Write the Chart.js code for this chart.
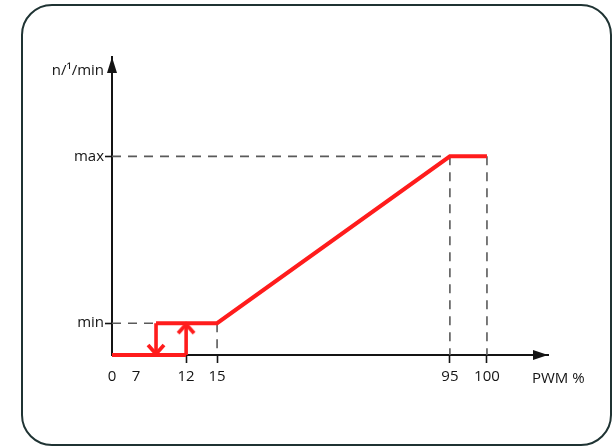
<!DOCTYPE html>
<html>
<head>
<meta charset="utf-8">
<script src="https://cdn.jsdelivr.net/npm/chart.js@4.4.1/dist/chart.umd.min.js"></script>
<style>
  html,body{margin:0;padding:0;background:#fff;}
  #wrap{width:614px;height:447px;position:relative;}
</style>
</head>
<body>
<div id="wrap"><canvas id="fanChart" width="614" height="447"></canvas></div>
<script>
/* ---- data: fan speed vs PWM duty (schematic) ---- */
const pwmTicks    = [0, 7, 12, 15, 95, 100];
const N_MIN = 16, N_MAX = 100;             // relative speed, min / max
const speedTicks  = [N_MIN, N_MAX];
const speedLabels = ['min', 'max'];
const offPwm      = [0, 12];               // fan stopped
const offSpeed    = [0, 0];
const runPwm      = [7, 15, 95, 100];      // fan running
const runSpeed    = [N_MIN, N_MIN, N_MAX, N_MAX];
const SWITCH_OFF  = 7, SWITCH_ON = 12;     // hysteresis

/* ---- schematic (non linear) x scale: value -> fraction of axis ---- */
const X_STOPS = [[0,0],[7,0.101],[12,0.170],[15,0.241],[95,0.775],[100,0.860],[120,1]];
const X_LABEL_NUDGE = {7:-20};

const RED  = '#ff1c1c';
const INK  = '#141414';
const DASH = '#5a5a5a';
const FONT = {family:'"Open Sans", "Noto Sans", sans-serif', size:15};

class SchematicScale extends Chart.LinearScale {
  getPixelForValue(v){
    let f = 1;
    for(let i=1;i<X_STOPS.length;i++){
      if(v <= X_STOPS[i][0]){
        const [v0,f0]=X_STOPS[i-1], [v1,f1]=X_STOPS[i];
        f = f0+(v-v0)/(v1-v0)*(f1-f0); break;
      }
    }
    return this.getPixelForDecimal(f);
  }
  getPixelForTick(i){
    const t = this.ticks[i];
    return this.getPixelForValue(t.value) + (X_LABEL_NUDGE[t.value]||0);
  }
}
SchematicScale.id = 'schematic';
SchematicScale.defaults = Chart.LinearScale.defaults;
Chart.register(SchematicScale);

const pts = (xs,ys)=>xs.map((x,i)=>({x, y:ys[i]}));

/* arrow head used as point style (tip at canvas centre) */
function chevron(){
  const c=document.createElement('canvas'); c.width=26; c.height=30;
  const g=c.getContext('2d');
  g.strokeStyle=RED; g.lineWidth=3.8; g.lineJoin='miter';
  g.beginPath(); g.moveTo(5,25); g.lineTo(13,16); g.lineTo(21,25); g.stroke();
  return c;
}
const CHEV = chevron();

const redLine = (data,extra)=>Object.assign({
  data, borderColor:RED, borderWidth:4, pointRadius:0, tension:0, order:0, clip:false
}, extra||{});
const arrow = (data,rot)=>redLine(data,{
  pointStyle:ctx=>ctx.dataIndex===1?CHEV:'circle',
  pointRadius:ctx=>ctx.dataIndex===1?5:0,
  pointRotation:rot, borderWidth:3.6
});

/* dashed guide lines follow the data break points */
const guides = [
  [[0,N_MAX],[95,N_MAX]],
  [[95,N_MAX],[95,0]],
  [[100,N_MAX],[100,0]],
  [[0,N_MIN],[SWITCH_OFF,N_MIN]],
  [[15,N_MIN],[15,0]]
].map(seg=>({
  data:seg.map(([x,y])=>({x,y})), borderColor:DASH, borderWidth:1.6,
  borderDash:[9,7], pointRadius:0, order:5
}));

const decor = {
  id:'decor',
  beforeDraw(chart){
    const ctx=chart.ctx; ctx.save();
    ctx.strokeStyle='#1f3333'; ctx.lineWidth=2;
    ctx.beginPath(); ctx.roundRect(22,5,589,440,30); ctx.stroke();
    ctx.restore();
  },
  afterDraw(chart){
    const {ctx, chartArea:a} = chart; ctx.save();
    ctx.fillStyle=INK;
    ctx.beginPath(); ctx.moveTo(a.left,a.top); ctx.lineTo(a.left-5,a.top+16); ctx.lineTo(a.left+5,a.top+16); ctx.closePath(); ctx.fill();
    ctx.beginPath(); ctx.moveTo(a.right,a.bottom); ctx.lineTo(a.right-15,a.bottom-5); ctx.lineTo(a.right-15,a.bottom+5); ctx.closePath(); ctx.fill();
    ctx.font=`${FONT.size}px ${FONT.family}`; ctx.textBaseline='middle';
    ctx.textAlign='right'; ctx.fillText('n/¹/min', a.left-8, a.top+14);
    ctx.textAlign='left';  ctx.fillText('PWM %', a.right-16, a.bottom+24);
    ctx.restore();
  }
};

new Chart(document.getElementById('fanChart'),{
  type:'line',
  data:{datasets:[
    redLine(pts(offPwm,offSpeed)),
    redLine(pts(runPwm,runSpeed)),
    arrow([{x:SWITCH_ON,y:0},{x:SWITCH_ON,y:N_MIN}],0),
    arrow([{x:SWITCH_OFF,y:N_MIN},{x:SWITCH_OFF,y:0}],180),
    ...guides
  ]},
  options:{
    responsive:false, animation:false, events:[],
    layout:{padding:{top:57,right:66,bottom:0,left:0}},
    plugins:{legend:{display:false},tooltip:{enabled:false}},
    scales:{
      x:{
        type:'schematic', min:0, max:120,
        afterBuildTicks:s=>{ s.ticks=pwmTicks.map(v=>({value:v})); },
        afterFit:s=>{ s.height=92; },
        border:{color:INK,width:2},
        grid:{drawOnChartArea:false, tickLength:8, tickWidth:1.6,
              tickColor:c=>(c.tick && (c.tick.value===0||c.tick.value===SWITCH_OFF))?'rgba(0,0,0,0)':INK},
        ticks:{color:INK,font:FONT,padding:5,autoSkip:false,maxRotation:0,callback:v=>String(v)}
      },
      y:{
        type:'linear', min:0, max:150,
        afterBuildTicks:s=>{ s.ticks=speedTicks.map(v=>({value:v})); },
        afterFit:s=>{ s.width=112; },
        border:{color:INK,width:2},
        grid:{drawOnChartArea:false, tickLength:7, tickWidth:1.6, tickColor:INK},
        ticks:{color:INK,font:FONT,padding:1,callback:v=>speedLabels[speedTicks.indexOf(v)]}
      }
    }
  },
  plugins:[decor]
});
</script>
</body>
</html>
